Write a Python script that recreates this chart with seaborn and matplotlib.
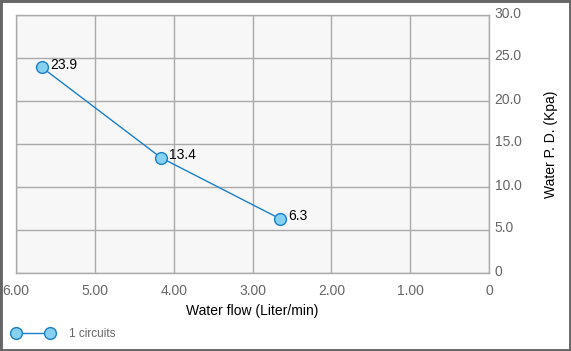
import matplotlib
matplotlib.use("Agg")
import matplotlib.pyplot as plt
import matplotlib.transforms as mtransforms
import seaborn as sns
import pandas as pd
from matplotlib.patches import Rectangle

flow = [5.67, 4.16, 2.65]
pd_kpa = [23.9, 13.4, 6.3]
series_name = "1 circuits"
x_ticks = [6, 5, 4, 3, 2, 1, 0]
x_labels = ["6.00", "5.00", "4.00", "3.00", "2.00", "1.00", "0"]
y_ticks = [0, 5, 10, 15, 20, 25, 30]
y_labels = ["0", "5.0", "10.0", "15.0", "20.0", "25.0", "30.0"]

df = pd.DataFrame({"flow": flow, "pd": pd_kpa, "series": series_name})

sns.set_style("white")
plt.rcParams["font.family"] = ["Liberation Sans", "DejaVu Sans"]

W, H = 571, 351
fig = plt.figure(figsize=(W / 100, H / 100), dpi=100)
ax = fig.add_axes([16 / W, 1 - 273 / H, (489 - 16) / W, (273 - 15) / H])
ax.set_facecolor("#f7f7f7")

line_c = "#1a7fc8"
fill_c = "#86d0f0"
sns.lineplot(data=df, x="flow", y="pd", ax=ax, color=line_c, linewidth=1.0,
             marker="o", markersize=8.5, markerfacecolor=fill_c,
             markeredgecolor=line_c, markeredgewidth=1.0, legend=False)

for xv, yv in zip(flow, pd_kpa):
    ax.annotate(f"{yv}", (xv, yv), xytext=(6, 2), textcoords="offset points",
                ha="left", va="center", fontsize=10, color="black")

ax.set_xlim(6, 0)
ax.set_ylim(0, 30)
ax.set_xticks(x_ticks)
ax.set_xticklabels(x_labels)
ax.set_yticks(y_ticks)
ax.set_yticklabels(y_labels)
ax.yaxis.tick_right()
ax.yaxis.set_label_position("right")
ax.tick_params(axis="both", length=0, labelsize=10, colors="#666666")
ax.tick_params(axis="x", pad=8)
ax.tick_params(axis="y", pad=4)
ax.grid(True, color="#aaaaaa", linewidth=1.0)
for s in ax.spines.values():
    s.set_color("#aaaaaa")
    s.set_linewidth(1.0)

shift = mtransforms.ScaledTranslation(0, 3 / 100, fig.dpi_scale_trans)
for lbl in ax.get_yticklabels():
    lbl.set_transform(lbl.get_transform() + shift)

ax.set_xlabel("Water flow (Liter/min)", fontsize=10, color="black", labelpad=4)
ax.set_ylabel("Water P. D. (Kpa)", fontsize=10, color="black", labelpad=16)

handle = plt.Line2D([], [], color=line_c, linewidth=1.0, marker="o", markersize=8.5,
                    markerfacecolor=fill_c, markeredgecolor=line_c)
leg = fig.legend([handle], [series_name], loc="center left",
                 bbox_to_anchor=(2 / W, 1 - 334 / H), frameon=False,
                 numpoints=2, handlelength=3.5, handletextpad=1.25, fontsize=8.5)
for t in leg.get_texts():
    t.set_color("#666666")

fig.patches.append(Rectangle((0, 0), 1, 1, transform=fig.transFigure,
                             fill=False, edgecolor="#666666", linewidth=3.5))

fig.savefig("out.png", dpi=100)
